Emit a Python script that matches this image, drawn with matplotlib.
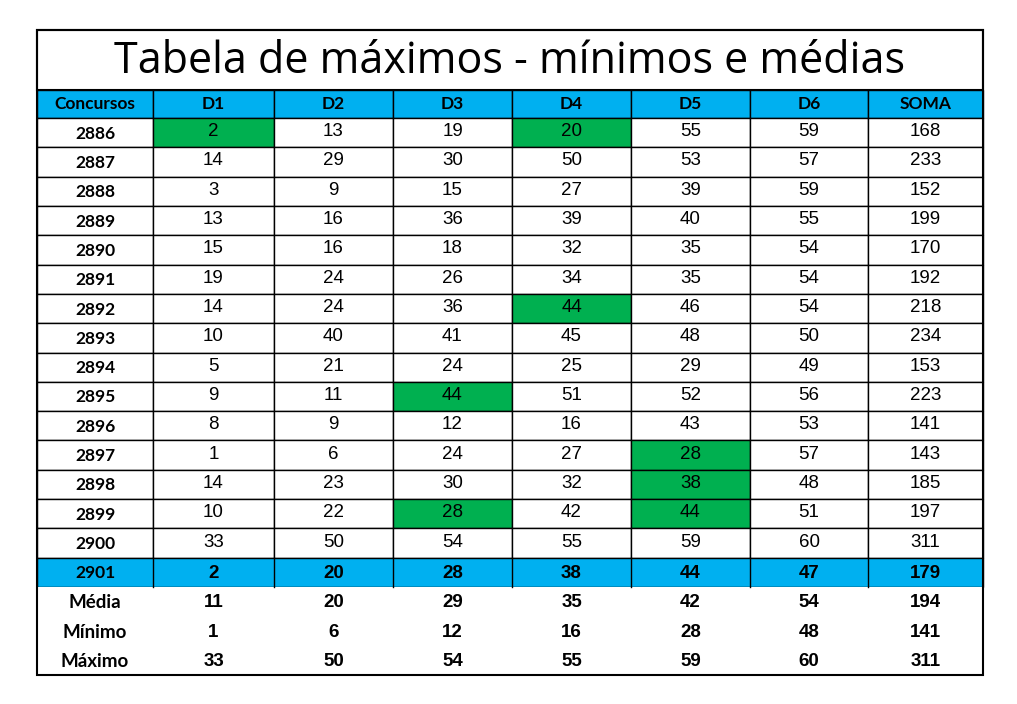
import matplotlib
matplotlib.use("Agg")
import matplotlib.pyplot as plt
from matplotlib.patches import Rectangle

title = "Tabela de máximos - mínimos e médias"
headers = ["Concursos", "D1", "D2", "D3", "D4", "D5", "D6", "SOMA"]
concursos = [2886, 2887, 2888, 2889, 2890, 2891, 2892, 2893, 2894, 2895, 2896, 2897, 2898, 2899, 2900]
d1 = [2, 14, 3, 13, 15, 19, 14, 10, 5, 9, 8, 1, 14, 10, 33]
d2 = [13, 29, 9, 16, 16, 24, 24, 40, 21, 11, 9, 6, 23, 22, 50]
d3 = [19, 30, 15, 36, 18, 26, 36, 41, 24, 44, 12, 24, 30, 28, 54]
d4 = [20, 50, 27, 39, 32, 34, 44, 45, 25, 51, 16, 27, 32, 42, 55]
d5 = [55, 53, 39, 40, 35, 35, 46, 48, 29, 52, 43, 28, 38, 44, 59]
d6 = [59, 57, 59, 55, 54, 54, 54, 50, 49, 56, 53, 57, 48, 51, 60]
soma = [168, 233, 152, 199, 170, 192, 218, 234, 153, 223, 141, 143, 185, 197, 311]
highlight = [(2886, "D1"), (2886, "D4"), (2892, "D4"), (2895, "D3"),
             (2897, "D5"), (2898, "D5"), (2899, "D3"), (2899, "D5")]
last_label = "2901"
last_row = [2, 20, 28, 38, 44, 47, 179]
media = [11, 20, 29, 35, 42, 54, 194]
minimo = [1, 6, 12, 16, 28, 48, 141]
maximo = [33, 50, 54, 55, 59, 60, 311]

BLUE = "#00B0F0"; GREEN = "#00B050"
fig = plt.figure(figsize=(10.17, 7.04), dpi=100)
ax = fig.add_axes([0, 0, 1, 1])
ax.set_xlim(0, 1017); ax.set_ylim(704, 0); ax.axis("off")

xs = [37, 153, 274, 393, 512, 631, 750, 868, 983]
top, ttl_bot, hdr_bot = 30, 90, 118
n_rows = len(concursos) + 4
rh = (675 - hdr_bot) / n_rows
ys = [hdr_bot + i * rh for i in range(n_rows + 1)]

def cell(r0, r1, c, color=None):
    ax.add_patch(Rectangle((xs[c], r0), xs[c+1]-xs[c], r1-r0, facecolor=color or "white",
                           edgecolor="black", lw=1))

# title
ax.add_patch(Rectangle((xs[0], top), xs[-1]-xs[0], ttl_bot-top, facecolor="white", edgecolor="black", lw=1.5))
ax.text((xs[0]+xs[-1])/2, (top+ttl_bot)/2+2, title, ha="center", va="center", fontsize=31, family="Open Sans")
# header
for c, h in enumerate(headers):
    cell(ttl_bot, hdr_bot, c, BLUE)
    ax.text((xs[c]+xs[c+1])/2, (ttl_bot+hdr_bot)/2, h, ha="center", va="center",
            fontsize=12.5, fontweight="bold", family="Lato")
cols = {"D1": d1, "D2": d2, "D3": d3, "D4": d4, "D5": d5, "D6": d6}
names = ["D1", "D2", "D3", "D4", "D5", "D6"]
for i, cc in enumerate(concursos):
    y0, y1 = ys[i], ys[i+1]; ym = (y0+y1)/2
    cell(y0, y1, 0)
    ax.text((xs[0]+xs[1])/2, ym+1, str(cc), ha="center", va="center", fontsize=12.5, fontweight="bold", family="Lato")
    vals = [cols[n][i] for n in names] + [soma[i]]
    for j, v in enumerate(vals):
        col = GREEN if j < 6 and (cc, names[j]) in highlight else None
        cell(y0, y1, j+1, col)
        ax.text((xs[j+1]+xs[j+2])/2, ym-1, str(v), ha="center", va="center", fontsize=13.5, family="Liberation Sans")
extra = [(last_label, last_row, BLUE), ("Média", media, None), ("Mínimo", minimo, None), ("Máximo", maximo, None)]
for k, (lab, vals, color) in enumerate(extra):
    i = len(concursos) + k
    y0, y1 = ys[i], ys[i+1]; ym = (y0+y1)/2
    if color:
        ax.add_patch(Rectangle((xs[0], y0), xs[-1]-xs[0], y1-y0, facecolor=color, edgecolor="black", lw=1))
        ax.text((xs[0]+xs[1])/2, ym+1, lab, ha="center", va="center", fontsize=12.5, fontweight="bold", family="Lato")
    else:
        ax.add_patch(Rectangle((xs[0], y0), xs[-1]-xs[0], y1-y0, facecolor="white", edgecolor="none"))
        ax.text((xs[0]+xs[1])/2, ym+1, lab, ha="center", va="center", fontsize=13.5, fontweight="bold", family="Lato")
    for j, v in enumerate(vals):
        ax.text((xs[j+1]+xs[j+2])/2, ym+1, str(v), ha="center", va="center", fontsize=13.5,
                fontweight="bold", family="Liberation Sans")
    if color:
        for x in xs[1:-1]:
            ax.plot([x, x], [y0, y1], color="black", lw=1)
ax.add_patch(Rectangle((xs[0], top), xs[-1]-xs[0], 675-top, facecolor="none", edgecolor="black", lw=1.5))
fig.savefig("out.png", dpi=100)
